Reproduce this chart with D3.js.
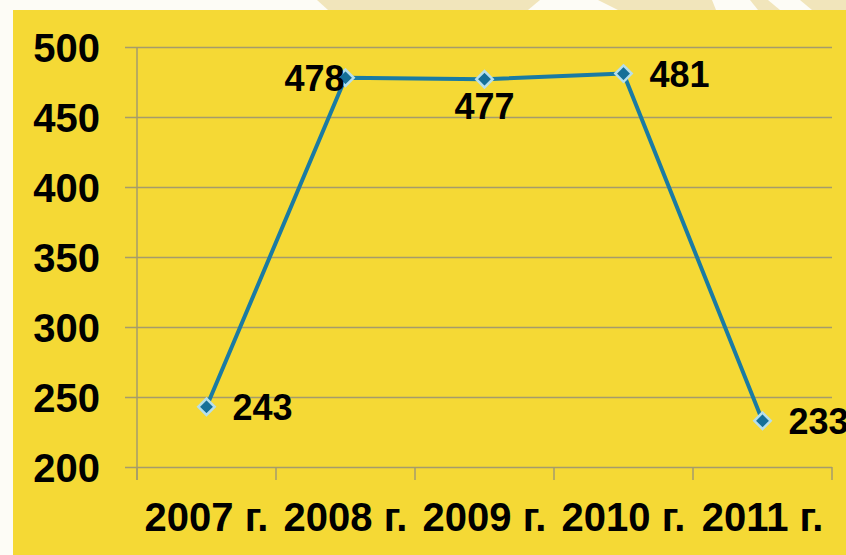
<!DOCTYPE html>
<html>
<head>
<meta charset="utf-8">
<script src="https://cdn.jsdelivr.net/npm/d3@7"></script>
<style>
  body { margin: 0; background: #fff; }
  svg { display: block; }
  text { font-family: "Liberation Sans", Arial, sans-serif; font-weight: bold; fill: #000; }
</style>
</head>
<body>
<div id="chart"></div>
<script>
// data
const years = ["2007 г.", "2008 г.", "2009 г.", "2010 г.", "2011 г."];
const values = [243, 478, 477, 481, 233];
const labelSide = ["right", "left", "below", "right", "right"];
const yTicks = [200, 250, 300, 350, 400, 450, 500];

const W = 846, H = 555;
const margin = { top: 47, left: 137, right: 14, bottom: 88 };

const svg = d3.select("#chart").append("svg")
    .attr("width", W)
    .attr("height", H);

// background: white strip on top/left with pale decorative shapes, then yellow panel
svg.append("rect").attr("width", W).attr("height", H).attr("fill", "#fdfcf6");
const deco = [
    [[317, 0], [540, 0], [528, 10], [328, 10]],
    [[598, 0], [712, 0], [716, 10], [618, 10]],
    [[750, 0], [768, 0], [780, 10], [758, 10]],
    [[800, 0], [846, 0], [846, 10], [812, 10]]
];
svg.selectAll(".deco").data(deco).enter().append("polygon")
    .attr("class", "deco")
    .attr("points", d => d.map(p => p.join(",")).join(" "))
    .attr("fill", "#f1e5bb");
svg.append("rect")
    .attr("x", 13).attr("y", 10)
    .attr("width", W - 13).attr("height", H - 10)
    .attr("fill", "#f5d935");

const width = W - margin.left - margin.right;
const height = H - margin.top - margin.bottom;

const x = d3.scaleBand().domain(years).range([margin.left, margin.left + width]);
const y = d3.scaleLinear().domain([200, 500]).range([margin.top + height, margin.top]);

// y axis with gridlines
const yAxis = d3.axisLeft(y)
    .tickValues(yTicks)
    .tickSize(-(width + 12))
    .tickPadding(25);

const gy = svg.append("g")
    .attr("transform", `translate(${margin.left - 12},0)`)
    .call(yAxis);
gy.select(".domain").remove();
gy.selectAll("line").attr("stroke", "#a59b6c").attr("stroke-width", 1.5);
gy.selectAll("text")
    .attr("font-size", 40)
    .attr("dy", "0.36em")
    .style("font-family", "'Liberation Sans', Arial, sans-serif")
    .style("font-weight", "bold");

// vertical axis line
svg.append("line")
    .attr("x1", margin.left).attr("x2", margin.left)
    .attr("y1", y(500)).attr("y2", y(200) + 13)
    .attr("stroke", "#a59b6c").attr("stroke-width", 1.5);

// x axis: labels at band centers, tick marks at band boundaries
const xAxis = d3.axisBottom(x).tickSize(0).tickPadding(36);
const gx = svg.append("g")
    .attr("transform", `translate(0,${y(200)})`)
    .call(xAxis);
gx.select(".domain").remove();
gx.selectAll("text")
    .attr("font-size", 40)
    .style("font-family", "'Liberation Sans', Arial, sans-serif")
    .style("font-weight", "bold");

const bounds = years.map(d => x(d)).concat([x(years[years.length - 1]) + x.bandwidth()]);
svg.selectAll(".xtick").data(bounds).enter().append("line")
    .attr("class", "xtick")
    .attr("x1", d => d).attr("x2", d => d)
    .attr("y1", y(200)).attr("y2", y(200) + 13)
    .attr("stroke", "#a59b6c").attr("stroke-width", 1.5);

// line
const pts = years.map((d, i) => ({ year: d, value: values[i], side: labelSide[i] }));
const cx = d => x(d.year) + x.bandwidth() / 2;

svg.append("path")
    .datum(pts)
    .attr("fill", "none")
    .attr("stroke", "#1a7ba3")
    .attr("stroke-width", 4)
    .attr("stroke-linejoin", "round")
    .attr("d", d3.line().x(cx).y(d => y(d.value)));

// diamond markers
svg.selectAll(".marker").data(pts).enter().append("path")
    .attr("class", "marker")
    .attr("transform", d => `translate(${cx(d)},${y(d.value)})`)
    .attr("d", d3.symbol().type(d3.symbolDiamond2).size(170))
    .attr("fill", "#156f98")
    .attr("stroke", "#b6dfec")
    .attr("stroke-width", 2.5);

// data labels
svg.selectAll(".label").data(pts).enter().append("text")
    .attr("class", "label")
    .attr("font-size", 36)
    .attr("x", d => d.side === "right" ? cx(d) + 26 : d.side === "left" ? cx(d) - 1 : cx(d))
    .attr("y", d => d.side === "below" ? y(d.value) + 27 : y(d.value))
    .attr("dy", "0.36em")
    .attr("text-anchor", d => d.side === "right" ? "start" : d.side === "left" ? "end" : "middle")
    .text(d => d.value);
</script>
</body>
</html>
